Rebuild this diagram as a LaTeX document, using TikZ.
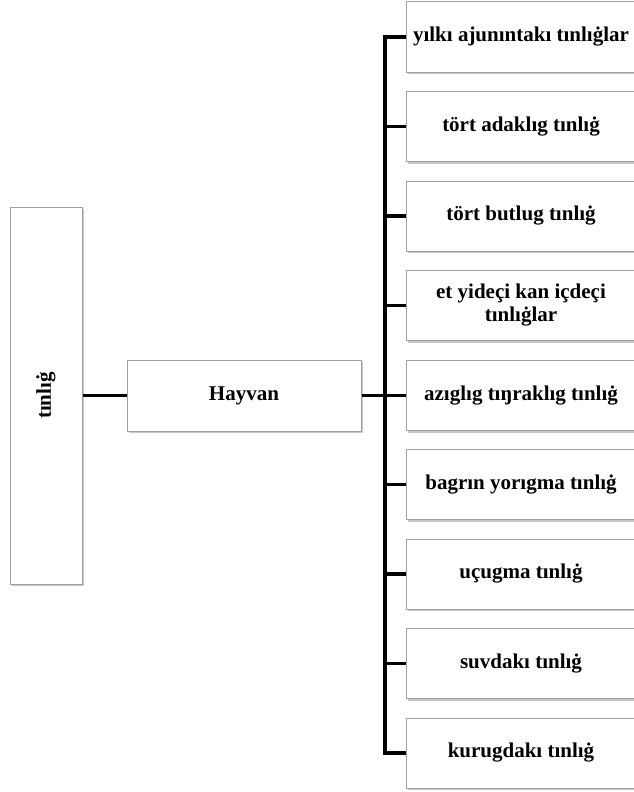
\documentclass[tikz,border=0pt]{standalone}
\usepackage{fontspec}
\setmainfont{Liberation Serif}
\usetikzlibrary{shadows}

\tikzset{
    box/.style={draw=gray!75, line width=1pt, fill=white, align=center,
        font=\fontsize{21}{23}\selectfont\bfseries,
        drop shadow={shadow xshift=1.5pt, shadow yshift=-2pt, fill=gray!55, opacity=0.8}},
    leaf/.style={box, minimum width=230pt, minimum height=70pt, inner sep=2pt},
    conn/.style={line width=3.5pt, line join=miter}
}

\begin{document}
\begin{tikzpicture}[x=1pt, y=-1pt]

    \useasboundingbox (0,0) rectangle (634,792);

    % Root and middle box
    \node[box, minimum width=72pt, minimum height=377pt] (root) at (46,395.5)
        {\rotatebox{90}{tınlıġ}};
    \node[box, minimum width=234pt, minimum height=71pt] (hayvan) at (244,395.5) {Hayvan};

    % Leaves
    \node[leaf] (leaf1) at (521,37)    {yılkı ajunıntakı tınlıġlar};
    \node[leaf] (leaf2) at (521,126.5) {tört adaklıg tınlıġ};
    \node[leaf] (leaf3) at (521,216)   {tört butlug tınlıġ};
    \node[leaf] (leaf4) at (521,305.5) {et yideçi kan içdeçi\\tınlıġlar};
    \node[leaf] (leaf5) at (521,395.5) {azıglıg tıŋraklıg tınlıġ};
    \node[leaf] (leaf6) at (521,484.5) {bagrın yorıgma tınlıġ};
    \node[leaf] (leaf7) at (521,574)   {uçugma tınlıġ};
    \node[leaf] (leaf8) at (521,663.5) {suvdakı tınlıġ};
    \node[leaf] (leaf9) at (521,753)   {kurugdakı tınlıġ};

    % Connectors
    \coordinate (spine) at (385,0);
    \draw[conn] (root.east) -- (hayvan.west);
    \draw[conn] (hayvan.east) -- (hayvan.east -| spine);
    \draw[conn] (leaf1.west) -- (leaf1.west -| spine) -- (leaf9.west -| spine) -- (leaf9.west);
    \foreach \i in {2,...,8}
        \draw[conn] (leaf\i.west) -- (leaf\i.west -| spine);

\end{tikzpicture}
\end{document}
